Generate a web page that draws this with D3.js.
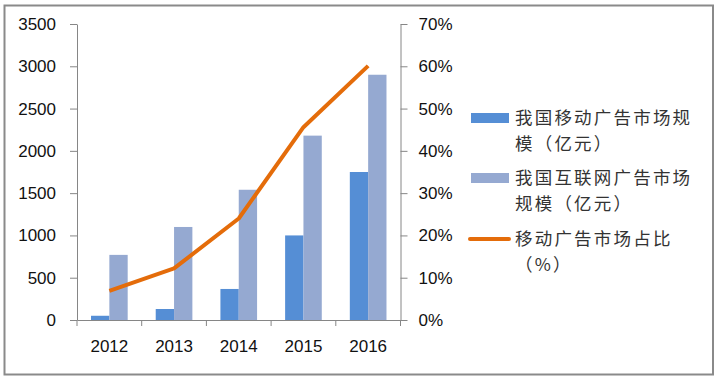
<!DOCTYPE html>
<html><head><meta charset="utf-8">
<script src="https://cdn.jsdelivr.net/npm/d3@7"></script>
<style>
html,body{margin:0;padding:0;background:#fff;}
svg{display:block;}
</style></head>
<body>
<svg id="c" width="720" height="382"></svg>
<script>
const years = ["2012","2013","2014","2015","2016"];
const mobileAd = [50, 130, 367, 1000, 1750];
const internetAd = [770, 1100, 1540, 2180, 2900];
const mobileShare = [0.069, 0.122, 0.240, 0.456, 0.601];
const leftTicks = [0,500,1000,1500,2000,2500,3000,3500];
const rightTicks = [0,0.1,0.2,0.3,0.4,0.5,0.6,0.7];
const legendLabels = [["我国移动广告市场规","模（亿元）"],["我国互联网广告市场","规模（亿元）"],["移动广告市场占比","（%）"]];

const colMobile = "#558ED5", colInternet = "#95A9D1", colLine = "#E46C0A", axisCol = "#868686";
const svg = d3.select("#c");

svg.append("rect").attr("x",4.5).attr("y",5.5).attr("width",708.5).attr("height",369)
  .attr("fill","#fff").attr("stroke","#8a8a8a").attr("stroke-width",2);

const L = 77, R = 400.5, T = 24, B = 320;
const x = d3.scaleBand().domain(years).range([L,R]).padding(0);
const x1 = d3.scaleBand().domain(["m","i"]).range([0,x.bandwidth()]).paddingInner(0).paddingOuter(0.765);
const yL = d3.scaleLinear().domain([0,3500]).range([B,T]);
const yR = d3.scaleLinear().domain([0,0.7]).range([B,T]);

const font = "'Liberation Sans', Arial, sans-serif";

// left axis
const ga = svg.append("g").attr("transform",`translate(${L},0)`)
  .call(d3.axisLeft(yL).tickValues(leftTicks).tickFormat(d3.format("d")).tickSize(7).tickPadding(14).tickSizeOuter(0));
// right axis
const gr = svg.append("g").attr("transform",`translate(${R},0)`)
  .call(d3.axisRight(yR).tickValues(rightTicks).tickFormat(d3.format(".0%")).tickSize(7).tickPadding(11).tickSizeOuter(0));
// bottom axis labels
const gb = svg.append("g").attr("transform",`translate(0,${B})`)
  .call(d3.axisBottom(x).tickSize(0).tickPadding(20).tickSizeOuter(0));
// bottom tick marks at band boundaries
const bounds = years.map(d=>x(d)).concat([x.range()[1]]);
svg.append("g").selectAll("line").data(bounds).join("line")
  .attr("x1",d=>d).attr("x2",d=>d).attr("y1",B).attr("y2",B+6)
  .attr("stroke",axisCol).attr("stroke-width",1);

[ga,gr,gb].forEach(g=>{
  g.selectAll("path.domain").attr("stroke",axisCol).attr("stroke-width",1);
  g.selectAll(".tick line").attr("stroke",axisCol);
  g.selectAll("text").attr("font-family",font).attr("font-size",17).attr("fill","#111");
});

// bars
const bars = svg.append("g");
years.forEach((yr,i)=>{
  bars.append("rect").attr("x",x(yr)+x1("m")).attr("width",x1.bandwidth())
    .attr("y",yL(mobileAd[i])).attr("height",B-yL(mobileAd[i])).attr("fill",colMobile);
  bars.append("rect").attr("x",x(yr)+x1("i")).attr("width",x1.bandwidth())
    .attr("y",yL(internetAd[i])).attr("height",B-yL(internetAd[i])).attr("fill",colInternet);
});

// line
const line = d3.line().x((d,i)=>x(years[i])+x.bandwidth()/2).y(d=>yR(d));
svg.append("path").datum(mobileShare).attr("d",line).attr("fill","none")
  .attr("stroke",colLine).attr("stroke-width",4).attr("stroke-linejoin","round");

// legend
const lg = svg.append("g");
const entryY = [118, 178, 239];
const cjk = "'Noto Sans CJK SC', sans-serif";
legendLabels.forEach((lab,i)=>{
  const cy = entryY[i];
  if(i<2){
    lg.append("rect").attr("x",471).attr("y",cy-5).attr("width",38).attr("height",10)
      .attr("fill", i===0?colMobile:colInternet);
  } else {
    lg.append("line").attr("x1",470).attr("x2",509).attr("y1",cy).attr("y2",cy)
      .attr("stroke",colLine).attr("stroke-width",4).attr("stroke-linecap","round");
  }
  const t = lg.append("text").attr("font-family",cjk).attr("font-size",17.5)
    .attr("letter-spacing","2.2px").attr("fill","#333");
  lab.forEach((s,j)=>{
    t.append("tspan").attr("x",515).attr("y",cy + 6 + j*25.5).text(s);
  });
});
</script>
</body></html>
